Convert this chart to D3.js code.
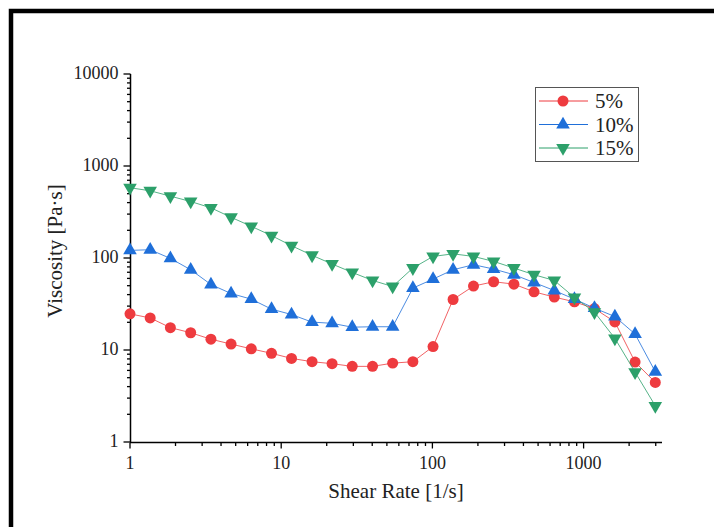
<!DOCTYPE html>
<html>
<head>
<meta charset="utf-8">
<script src="https://cdn.jsdelivr.net/npm/d3@7"></script>
<style>
  body { margin: 0; background: #fff; }
  svg { display: block; font-family: "Liberation Serif", "Times New Roman", serif; }
</style>
</head>
<body>
<script>
// shear rate points (1/s)
var shearRate = [1, 1.36, 1.85, 2.52, 3.43, 4.66, 6.34, 8.63, 11.7, 16.0, 21.7, 29.5, 40.2, 54.6,
                 74.3, 101, 137, 187, 254, 346, 470, 640, 870, 1180, 1610, 2190, 2980];

var visc5 = [24.7, 22.3, 17.5, 15.4, 13.1, 11.6, 10.3, 9.2, 8.1, 7.46, 7.1, 6.64, 6.64, 7.2,
             7.46, 10.9, 35.4, 49.5, 55.2, 52, 42.9, 37.6, 33.4, 28.2, 20.2, 7.4, 4.44];
var visc10 = [121, 123, 99, 74.5, 51.5, 41.1, 35.7, 27.8, 24.3, 20.1, 19.5, 17.7, 17.9, 17.9,
              47.1, 59, 74.5, 84.5, 75.9, 65.8, 54.2, 44.3, 35.7, 28.5, 23.1, 14.9, 5.8];
var visc15 = [580, 538, 470, 411, 351, 277, 221, 175, 136, 107, 86, 69.7, 57, 49,
              77.8, 104, 111, 104, 91.8, 77.8, 65.8, 57, 37.2, 25.8, 13.4, 5.75, 2.47];

var seriesNames = ['5%', '10%', '15%'];
var xTicks = [1, 10, 100, 1000];
var yTicks = [1, 10, 100, 1000, 10000];

var colors = ['#ee3b3f', '#1f6fd9', '#2ca06a'];
var symbols = ['circle', 'up', 'down'];

var W = 714, H = 527;
var svg = d3.select('body').append('svg')
    .attr('width', W)
    .attr('height', H);

// outer frame (only top and left show inside the picture)
svg.append('rect')
    .attr('x', 11).attr('y', 11)
    .attr('width', W + 20).attr('height', H + 20)
    .style('fill', 'none')
    .style('stroke', '#000')
    .style('stroke-width', 4.5);

var x = d3.scaleLog().domain([1, 3300]).range([130, 662]);
var y = d3.scaleLog().domain([1, 10000]).range([442, 74]);

function minorTicks(lo, hi) {
    var out = [];
    for (var d = lo; d < hi; d *= 10) {
        for (var k = 2; k <= 9; k++) {
            if (d * k <= hi) out.push(d * k);
        }
    }
    return out;
}

// x axis
var gx = svg.append('g').attr('transform', 'translate(0,442.5)');
gx.append('line')
    .attr('x1', 130).attr('x2', 662)
    .style('stroke', '#000').style('stroke-width', 1.5);
gx.selectAll('.xminor')
    .data(minorTicks(1, 3300))
    .enter().append('line')
    .attr('class', 'xminor')
    .attr('x1', function(d) { return x(d); })
    .attr('x2', function(d) { return x(d); })
    .attr('y1', 0).attr('y2', 3.5)
    .style('stroke', '#000').style('stroke-width', 1.3);
gx.selectAll('.xmajor')
    .data(xTicks)
    .enter().append('line')
    .attr('class', 'xmajor')
    .attr('x1', function(d) { return x(d); })
    .attr('x2', function(d) { return x(d); })
    .attr('y1', 0).attr('y2', 6)
    .style('stroke', '#000').style('stroke-width', 1.3);
gx.selectAll('.xlab')
    .data(xTicks)
    .enter().append('text')
    .attr('class', 'xlab')
    .attr('x', function(d) { return x(d); })
    .attr('y', 26)
    .attr('text-anchor', 'middle')
    .style('font-size', '18px')
    .style('fill', '#222')
    .text(function(d) { return d; });

// y axis
var gy = svg.append('g').attr('transform', 'translate(130.5,0)');
gy.append('line')
    .attr('y1', 74).attr('y2', 442)
    .style('stroke', '#000').style('stroke-width', 1.5);
gy.selectAll('.yminor')
    .data(minorTicks(1, 10000))
    .enter().append('line')
    .attr('class', 'yminor')
    .attr('y1', function(d) { return y(d); })
    .attr('y2', function(d) { return y(d); })
    .attr('x1', 0).attr('x2', -3.5)
    .style('stroke', '#000').style('stroke-width', 1.3);
gy.selectAll('.ymajor')
    .data(yTicks)
    .enter().append('line')
    .attr('class', 'ymajor')
    .attr('y1', function(d) { return y(d); })
    .attr('y2', function(d) { return y(d); })
    .attr('x1', 0).attr('x2', -7)
    .style('stroke', '#000').style('stroke-width', 1.3);
gy.selectAll('.ylab')
    .data(yTicks)
    .enter().append('text')
    .attr('class', 'ylab')
    .attr('x', -12)
    .attr('y', function(d) { return y(d) + 5; })
    .attr('text-anchor', 'end')
    .style('font-size', '18px')
    .style('fill', '#222')
    .text(function(d) { return d; });

// axis titles
svg.append('text')
    .attr('x', 396).attr('y', 498)
    .attr('text-anchor', 'middle')
    .style('font-size', '21px')
    .style('fill', '#222')
    .text('Shear Rate [1/s]');
svg.append('text')
    .attr('transform', 'translate(62,251) rotate(-90)')
    .attr('text-anchor', 'middle')
    .style('font-size', '21px')
    .style('fill', '#222')
    .text('Viscosity [Pa·s]');

function symbolPath(kind) {
    if (kind == 'circle') return d3.symbol().type(d3.symbolCircle).size(95)();
    return d3.symbol().type(d3.symbolTriangle).size(80)();
}

function symbolTransform(kind, px, py) {
    var t = 'translate(' + px + ',' + py + ')';
    if (kind == 'down') t += ' rotate(180)';
    return t;
}

var allSeries = [visc5, visc10, visc15];
var line = d3.line()
    .x(function(d) { return x(d[0]); })
    .y(function(d) { return y(d[1]); });

allSeries.forEach(function(vals, i) {
    var pts = shearRate.map(function(s, j) { return [s, vals[j]]; });
    svg.append('path')
        .datum(pts)
        .attr('d', line)
        .style('fill', 'none')
        .style('stroke', colors[i])
        .style('stroke-width', 1)
        .style('opacity', 0.8);
    svg.selectAll('.pt' + i)
        .data(pts)
        .enter().append('path')
        .attr('class', 'pt' + i)
        .attr('d', symbolPath(symbols[i]))
        .attr('transform', function(d) { return symbolTransform(symbols[i], x(d[0]), y(d[1])); })
        .style('fill', colors[i]);
});

// legend
var lg = svg.append('g');
lg.append('rect')
    .attr('x', 535.5).attr('y', 87.5)
    .attr('width', 103).attr('height', 74)
    .style('fill', '#fff')
    .style('stroke', '#555')
    .style('stroke-width', 1);
seriesNames.forEach(function(name, i) {
    var ly = 101 + i * 23.5;
    lg.append('line')
        .attr('x1', 539).attr('x2', 588)
        .attr('y1', ly).attr('y2', ly)
        .style('stroke', colors[i])
        .style('stroke-width', 1);
    lg.append('path')
        .attr('d', symbolPath(symbols[i]))
        .attr('transform', symbolTransform(symbols[i], 563, ly))
        .style('fill', colors[i]);
    lg.append('text')
        .attr('x', 595).attr('y', ly + 7)
        .style('font-size', '21px')
        .style('fill', '#222')
        .text(name);
});
</script>
</body>
</html>
